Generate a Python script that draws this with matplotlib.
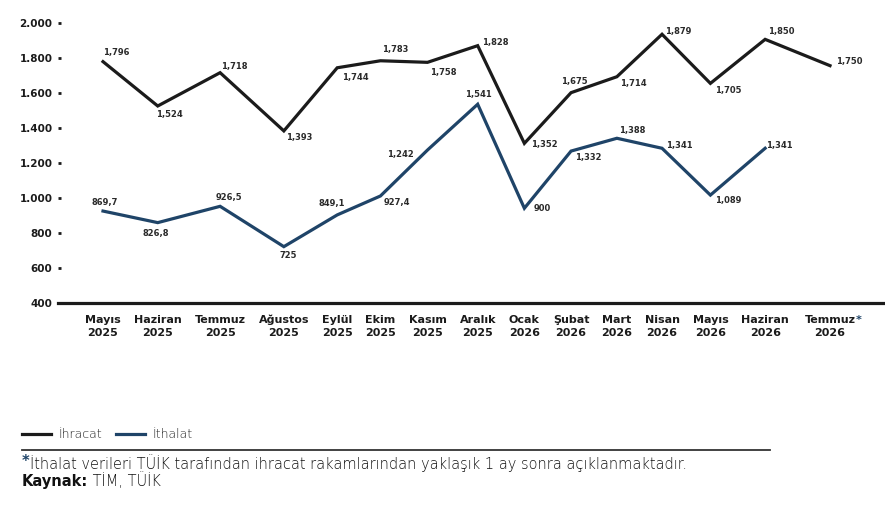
import numpy as np
import matplotlib
matplotlib.use("Agg")
import matplotlib.pyplot as plt
from matplotlib.lines import Line2D
from matplotlib.ticker import FuncFormatter

plt.rcParams['font.family'] = ['DejaVu Sans']

# data (plotted positions) + the printed labels
months = ["Mayıs", "Haziran", "Temmuz", "Ağustos", "Eylül", "Ekim", "Kasım", "Aralık",
          "Ocak", "Şubat", "Mart", "Nisan", "Mayıs", "Haziran", "Temmuz"]
years = ["2025"] * 8 + ["2026"] * 7
ihracat = [1778, 1525, 1715, 1383, 1743, 1783, 1774, 1869, 1312, 1601, 1692, 1934, 1654, 1905, 1755]
ithalat = [926, 860, 953, 723, 904, 1012, 1274, 1535, 942, 1268, 1341, 1284, 1017, 1284, np.nan]
ihracat_lbl = ["1,796", "1,524", "1,718", "1,393", "1,744", "1,783", "1,758", "1,828",
               "1,352", "1,675", "1,714", "1,879", "1,705", "1,850", "1,750"]
ithalat_lbl = ["869,7", "826,8", "926,5", "725", "849,1", "927,4", "1,242", "1,541",
               "900", "1,332", "1,388", "1,341", "1,089", "1,341", None]

# label offsets in pixels (dx, dy screen-down)
ihr_off = [(13, -9), (12, 8), (14, -6), (15, 7), (18, 10), (15, -11), (16, 10), (18, -3),
           (20, 1), (3, -11), (16, 7), (16, -3), (18, 7), (16, -8), (19, -4)]
ith_off = [(2, -9), (-2, 11), (9, -9), (4, 9), (-5, -11), (16, 7), (-27, 4), (1, -10),
           (18, 0), (17, 6), (15, -8), (17, -3), (18, 5), (14, -3), (0, 0)]

BLACK = "#1b1b1b"
NAVY = "#1f4468"
W, H = 885, 515

fig = plt.figure(figsize=(W / 100, H / 100), dpi=100)
ax_l, ax_r, ax_t, ax_b = 58, 885, 22.7, 303.3
ax = fig.add_axes([ax_l / W, 1 - ax_b / H, (ax_r - ax_l) / W, (ax_b - ax_t) / H])

# category positions follow the label widths (labels packed in a row)
renderer = fig.canvas.get_renderer()
xfont = dict(fontsize=8, fontweight="bold", color=BLACK)
widths = []
for m in months:
    t = fig.text(0, 0, m, **xfont)
    widths.append(t.get_window_extent(renderer).width)
    t.remove()
widths[-1] += 5  # asterisk
half = [(widths[i] + widths[i + 1]) / 2 for i in range(len(widths) - 1)]
span = 727
gap = (span - sum(half)) / len(half)
x = np.concatenate([[0], np.cumsum(np.array(half) + gap)])
first = 103 - ax_l
ax.set_xlim(-first, (ax_r - ax_l) - first)
ax.set_ylim(400, 2000)

ax.plot(x, ihracat, color=BLACK, lw=2.3, solid_joinstyle="miter", clip_on=False)
ax.plot(x, ithalat, color=NAVY, lw=2.3, solid_joinstyle="miter", clip_on=False)

for xi, v, s, (dx, dy) in zip(x, ihracat, ihracat_lbl, ihr_off):
    ax.annotate(s, (xi, v), xytext=(dx, -dy), textcoords="offset pixels",
                ha="center", va="center", fontsize=6, fontweight="bold", color="#2a2a2a")
for xi, v, s, (dx, dy) in zip(x, ithalat, ithalat_lbl, ith_off):
    if s is None:
        continue
    ax.annotate(s, (xi, v), xytext=(dx, -dy), textcoords="offset pixels",
                ha="center", va="center", fontsize=6, fontweight="bold", color="#2a2a2a")

# axes styling
for side in ["left", "top", "right"]:
    ax.spines[side].set_visible(False)
ax.spines["bottom"].set_linewidth(2.3)
ax.spines["bottom"].set_color(BLACK)
ax.set_yticks(np.arange(400, 2001, 200))
ax.yaxis.set_major_formatter(FuncFormatter(lambda v, p: f"{int(v):,}".replace(",", ".")))
ax.tick_params(axis="y", direction="in", length=2.5, width=2, color=BLACK, pad=4,
               labelsize=7.5, labelcolor=BLACK)
for lab in ax.get_yticklabels():
    lab.set_fontweight("bold")
ax.set_xticks([])

# x labels as text (last one gets a blue asterisk)
for i, (xi, m, yr) in enumerate(zip(x, months, years)):
    t = ax.annotate(m + "\n" + yr, (xi, 0), xycoords=("data", "axes fraction"),
                    xytext=(0, -33), textcoords="offset pixels", ha="center", va="baseline",
                    linespacing=1.45, annotation_clip=False, **xfont)
    if i == len(months) - 1:
        ax.annotate("*", (1, 1), xycoords=t, xytext=(0.5, 0), textcoords="offset points",
                    ha="left", va="top", fontsize=8, fontweight="bold", color=NAVY)

# legend
handles = [Line2D([], [], color=BLACK, lw=2.3), Line2D([], [], color=NAVY, lw=2.3)]
fig.legend(handles, ["İhracat", "İthalat"], loc="center left",
           bbox_to_anchor=(11 / W, 1 - 434 / H), ncol=2, frameon=False,
           handlelength=2.3, handletextpad=0.6, columnspacing=1.1,
           prop=dict(weight="light", size=9))
for t in fig.legends[0].get_texts():
    t.set_color("#222222")

fig.add_artist(Line2D([22 / W, 770 / W], [1 - 450 / H, 1 - 450 / H], color="#333333", lw=1.3))

note = fig.text(30 / W, 1 - 469 / H,
                "İthalat verileri TÜİK tarafından ihracat rakamlarından yaklaşık 1 ay sonra açıklanmaktadır.",
                fontsize=10.5, fontweight="light", color="#111111", va="baseline")
ax.annotate("*", (0, 1), xycoords=note, xytext=(-0.5, 0), textcoords="offset points",
            ha="right", va="top", fontsize=10.5, fontweight="bold", color=NAVY,
            annotation_clip=False)
src = fig.text(22 / W, 1 - 486 / H, "Kaynak:", color="#111111", fontsize=10.5, va="baseline",
               fontweight="bold")
ax.annotate(" TİM, TÜİK", (1, 0), xycoords=src, ha="left", va="bottom", fontsize=10.5,
            fontweight="light", color="#111111", annotation_clip=False)

fig.savefig("out.png", dpi=100)
